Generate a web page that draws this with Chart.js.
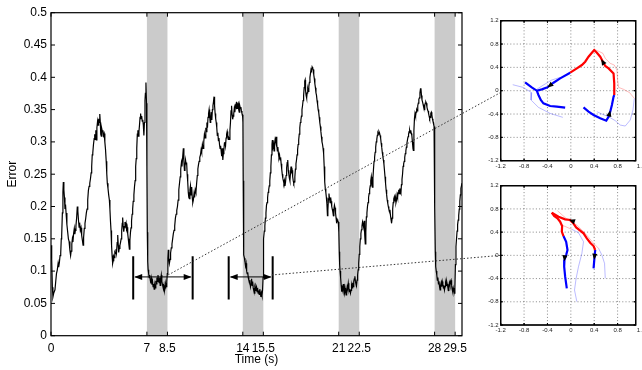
<!DOCTYPE html>
<html>
<head>
<meta charset="utf-8">
<script src="https://cdn.jsdelivr.net/npm/chart.js@4.4.1/dist/chart.umd.min.js"></script>
<style>
  html, body { margin: 0; padding: 0; background: #fff; overflow: hidden; width: 642px; height: 370px; }
  #wrap { position: relative; width: 642px; height: 370px; overflow: hidden; }
  canvas { position: absolute; }
</style>
</head>
<body>
<div id="wrap">
  <canvas id="mainChart" width="642" height="370" style="left:0;top:0;width:642px;height:370px"></canvas>
  <canvas id="insetTop" width="182" height="185" style="left:470px;top:0;width:182px;height:185px"></canvas>
  <canvas id="insetBottom" width="182" height="185" style="left:470px;top:170px;width:182px;height:185px"></canvas>
</div>
<script>
// ---------- main time series: tracking error over time ----------
const timeSec = [
  0.00,0.05,0.10,0.14,0.20,0.29,0.35,0.40,0.46,0.52,0.56,0.61,0.66,0.71,0.75,0.78,0.83,0.87,0.90,0.94,
  0.98,1.02,1.06,1.10,1.16,1.22,1.27,1.32,1.38,1.43,1.47,1.52,1.56,1.60,1.65,1.70,1.74,1.78,1.82,1.87,
  1.92,1.96,2.01,2.05,2.09,2.14,2.19,2.24,2.29,2.34,2.38,2.43,2.48,2.53,2.58,2.63,2.68,2.73,2.78,2.83,
  2.88,2.93,2.97,3.01,3.05,3.10,3.15,3.19,3.23,3.27,3.31,3.35,3.40,3.44,3.48,3.52,3.56,3.60,3.63,3.67,
  3.71,3.75,3.79,3.83,3.88,3.93,3.98,4.03,4.07,4.11,4.16,4.21,4.26,4.30,4.34,4.38,4.42,4.46,4.50,4.54,
  4.58,4.62,4.66,4.70,4.74,4.78,4.83,4.87,4.91,4.94,4.98,5.03,5.08,5.12,5.16,5.20,5.23,5.27,5.31,5.35,
  5.40,5.44,5.48,5.52,5.56,5.60,5.64,5.68,5.72,5.76,5.80,5.84,5.88,5.92,5.96,6.00,6.05,6.10,6.14,6.18,
  6.22,6.26,6.30,6.34,6.38,6.42,6.46,6.50,6.54,6.58,6.62,6.66,6.70,6.74,6.78,6.82,6.86,6.89,6.93,6.97,
  7.00,7.03,7.06,7.09,7.13,7.17,7.21,7.25,7.29,7.33,7.37,7.41,7.45,7.49,7.53,7.57,7.61,7.65,7.69,7.73,
  7.77,7.81,7.85,7.89,7.93,7.97,8.01,8.05,8.09,8.13,8.17,8.21,8.25,8.29,8.33,8.37,8.41,8.45,8.49,8.53,
  8.56,8.60,8.64,8.69,8.73,8.78,8.83,8.88,8.93,8.98,9.03,9.08,9.13,9.18,9.23,9.28,9.33,9.38,9.43,9.47,
  9.52,9.56,9.61,9.66,9.70,9.74,9.78,9.82,9.86,9.90,9.94,9.98,10.02,10.06,10.10,10.14,10.18,10.22,10.27,10.31,
  10.35,10.39,10.44,10.48,10.53,10.58,10.63,10.68,10.72,10.76,10.81,10.86,10.91,10.96,11.00,11.05,11.10,11.15,11.20,11.25,
  11.30,11.34,11.38,11.42,11.46,11.50,11.54,11.58,11.62,11.66,11.70,11.74,11.78,11.82,11.86,11.90,11.94,11.98,12.02,12.06,
  12.10,12.14,12.18,12.22,12.26,12.30,12.34,12.38,12.42,12.46,12.50,12.54,12.58,12.62,12.66,12.70,12.74,12.78,12.82,12.86,
  12.90,12.94,12.98,13.02,13.06,13.10,13.14,13.18,13.22,13.26,13.30,13.34,13.38,13.42,13.46,13.50,13.54,13.58,13.62,13.66,
  13.70,13.74,13.78,13.82,13.86,13.90,13.94,13.98,14.01,14.03,14.05,14.08,14.12,14.16,14.20,14.24,14.28,14.32,14.36,14.40,
  14.44,14.48,14.52,14.56,14.60,14.64,14.68,14.72,14.76,14.80,14.84,14.88,14.92,14.96,15.00,15.04,15.08,15.12,15.16,15.20,
  15.24,15.28,15.32,15.36,15.40,15.44,15.48,15.50,15.53,15.57,15.61,15.65,15.69,15.73,15.77,15.81,15.85,15.89,15.93,15.97,
  16.01,16.05,16.09,16.13,16.16,16.20,16.24,16.28,16.32,16.36,16.40,16.44,16.48,16.52,16.56,16.60,16.64,16.68,16.72,16.76,
  16.80,16.84,16.88,16.92,16.96,17.00,17.04,17.08,17.12,17.16,17.20,17.24,17.28,17.32,17.36,17.40,17.44,17.48,17.52,17.56,
  17.60,17.64,17.68,17.72,17.76,17.80,17.84,17.88,17.92,17.96,18.00,18.04,18.08,18.12,18.16,18.20,18.24,18.28,18.32,18.36,
  18.40,18.44,18.48,18.52,18.55,18.58,18.62,18.66,18.70,18.74,18.78,18.82,18.86,18.90,18.94,18.98,19.02,19.06,19.10,19.14,
  19.18,19.22,19.26,19.30,19.34,19.38,19.42,19.46,19.50,19.54,19.58,19.62,19.66,19.70,19.74,19.78,19.82,19.86,19.90,19.94,
  19.98,20.02,20.06,20.10,20.14,20.18,20.21,20.25,20.29,20.33,20.37,20.41,20.45,20.49,20.53,20.57,20.61,20.65,20.69,20.73,
  20.77,20.81,20.85,20.89,20.93,20.97,21.01,21.04,21.07,21.10,21.14,21.18,21.22,21.26,21.30,21.34,21.38,21.42,21.46,21.50,
  21.54,21.58,21.62,21.66,21.70,21.74,21.78,21.82,21.86,21.90,21.94,21.98,22.02,22.06,22.10,22.14,22.18,22.22,22.26,22.30,
  22.34,22.38,22.42,22.46,22.50,22.54,22.58,22.62,22.66,22.70,22.74,22.78,22.82,22.86,22.90,22.94,22.98,23.02,23.06,23.10,
  23.14,23.18,23.22,23.26,23.30,23.34,23.38,23.42,23.46,23.50,23.54,23.58,23.62,23.66,23.70,23.74,23.78,23.82,23.86,23.90,
  23.94,23.98,24.02,24.06,24.10,24.14,24.18,24.22,24.26,24.30,24.34,24.38,24.42,24.46,24.50,24.54,24.58,24.62,24.66,24.70,
  24.74,24.78,24.82,24.86,24.90,24.94,24.98,25.02,25.06,25.10,25.14,25.18,25.22,25.26,25.30,25.34,25.38,25.42,25.46,25.50,
  25.54,25.58,25.62,25.66,25.70,25.74,25.78,25.82,25.86,25.90,25.94,25.98,26.02,26.06,26.10,26.14,26.18,26.22,26.26,26.30,
  26.34,26.38,26.42,26.45,26.49,26.53,26.57,26.61,26.65,26.69,26.73,26.77,26.81,26.85,26.89,26.93,26.97,27.00,27.04,27.08,
  27.12,27.16,27.20,27.24,27.28,27.32,27.36,27.40,27.44,27.48,27.52,27.56,27.60,27.64,27.68,27.72,27.76,27.80,27.84,27.88,
  27.92,27.96,27.99,28.02,28.05,28.08,28.12,28.16,28.20,28.24,28.28,28.32,28.36,28.40,28.44,28.48,28.52,28.56,28.60,28.64,
  28.68,28.72,28.76,28.80,28.84,28.88,28.92,28.96,29.00,29.04,29.08,29.12,29.16,29.20,29.24,29.28,29.32,29.36,29.40,29.44,
  29.48,29.52,29.56,29.60,29.64,29.68,29.72,29.76,29.80,29.84,29.88,29.92,29.96,30.00
];
const errorVal = [
  0.140,0.118,0.075,0.060,0.066,0.071,0.085,0.096,0.102,0.112,0.106,0.113,0.124,0.128,0.150,0.155,0.190,0.222,0.238,0.226,
  0.214,0.196,0.203,0.190,0.172,0.160,0.150,0.146,0.132,0.124,0.131,0.142,0.150,0.145,0.158,0.166,0.157,0.163,0.170,0.182,
  0.200,0.193,0.178,0.168,0.175,0.163,0.167,0.155,0.148,0.140,0.152,0.166,0.174,0.181,0.190,0.196,0.210,0.225,0.231,0.236,
  0.243,0.252,0.262,0.280,0.283,0.296,0.305,0.312,0.304,0.318,0.303,0.322,0.332,0.326,0.336,0.330,0.343,0.330,0.312,0.309,
  0.320,0.316,0.318,0.310,0.313,0.300,0.288,0.270,0.251,0.236,0.228,0.218,0.210,0.196,0.178,0.163,0.140,0.124,0.112,0.116,
  0.123,0.121,0.129,0.127,0.134,0.128,0.144,0.156,0.140,0.129,0.135,0.140,0.145,0.150,0.163,0.174,0.183,0.170,0.161,0.168,
  0.176,0.170,0.174,0.165,0.168,0.158,0.150,0.142,0.134,0.148,0.160,0.167,0.178,0.188,0.196,0.208,0.218,0.232,0.240,0.262,
  0.274,0.290,0.312,0.318,0.309,0.316,0.326,0.338,0.344,0.336,0.340,0.332,0.334,0.326,0.310,0.330,0.364,0.375,0.392,0.360,
  0.260,0.160,0.115,0.102,0.096,0.090,0.094,0.086,0.081,0.088,0.079,0.084,0.076,0.080,0.072,0.078,0.074,0.085,0.080,0.090,
  0.084,0.094,0.086,0.082,0.090,0.078,0.088,0.094,0.084,0.080,0.076,0.072,0.078,0.070,0.074,0.080,0.076,0.084,0.096,0.120,
  0.133,0.120,0.112,0.118,0.128,0.136,0.142,0.150,0.158,0.163,0.170,0.182,0.188,0.194,0.200,0.210,0.226,0.236,0.246,0.258,
  0.268,0.262,0.276,0.290,0.270,0.256,0.262,0.272,0.266,0.268,0.250,0.238,0.222,0.214,0.212,0.226,0.232,0.218,0.230,0.214,
  0.206,0.210,0.220,0.214,0.226,0.222,0.236,0.248,0.258,0.264,0.270,0.276,0.280,0.288,0.284,0.296,0.290,0.300,0.312,0.306,
  0.322,0.316,0.330,0.322,0.338,0.344,0.350,0.340,0.330,0.338,0.346,0.334,0.350,0.356,0.362,0.370,0.356,0.344,0.336,0.330,
  0.322,0.310,0.314,0.302,0.306,0.296,0.290,0.294,0.286,0.278,0.290,0.272,0.282,0.288,0.298,0.300,0.294,0.306,0.312,0.316,
  0.310,0.304,0.306,0.304,0.318,0.330,0.348,0.356,0.342,0.335,0.340,0.344,0.352,0.346,0.356,0.354,0.362,0.352,0.358,0.360,
  0.350,0.346,0.356,0.352,0.354,0.348,0.344,0.342,0.330,0.240,0.150,0.125,0.120,0.114,0.108,0.112,0.100,0.096,0.098,0.090,
  0.086,0.082,0.086,0.076,0.080,0.088,0.078,0.084,0.074,0.070,0.066,0.074,0.070,0.078,0.076,0.068,0.074,0.066,0.070,0.064,
  0.072,0.066,0.060,0.066,0.062,0.070,0.090,0.120,0.150,0.162,0.170,0.182,0.190,0.202,0.206,0.214,0.222,0.226,0.232,0.240,
  0.252,0.262,0.280,0.296,0.303,0.292,0.296,0.286,0.298,0.304,0.300,0.308,0.296,0.286,0.292,0.282,0.276,0.280,0.272,0.276,
  0.266,0.258,0.250,0.244,0.240,0.236,0.240,0.232,0.238,0.248,0.260,0.268,0.272,0.256,0.250,0.244,0.240,0.252,0.262,0.254,
  0.256,0.246,0.240,0.236,0.238,0.246,0.258,0.266,0.272,0.280,0.288,0.296,0.303,0.312,0.322,0.330,0.334,0.340,0.350,0.356,
  0.364,0.372,0.384,0.394,0.396,0.380,0.372,0.368,0.376,0.382,0.378,0.386,0.392,0.400,0.406,0.412,0.410,0.416,0.414,0.412,
  0.404,0.398,0.390,0.384,0.376,0.372,0.364,0.358,0.350,0.346,0.338,0.330,0.324,0.316,0.308,0.300,0.296,0.290,0.282,0.262,
  0.238,0.228,0.222,0.214,0.204,0.186,0.194,0.212,0.220,0.212,0.206,0.214,0.208,0.200,0.196,0.192,0.186,0.196,0.202,0.198,
  0.190,0.182,0.174,0.180,0.178,0.176,0.160,0.130,0.110,0.100,0.090,0.078,0.068,0.074,0.070,0.080,0.072,0.066,0.074,0.068,
  0.063,0.070,0.076,0.072,0.081,0.074,0.068,0.072,0.066,0.070,0.078,0.074,0.082,0.076,0.084,0.088,0.092,0.084,0.080,0.078,
  0.086,0.094,0.102,0.112,0.126,0.138,0.150,0.158,0.164,0.170,0.176,0.172,0.168,0.178,0.156,0.142,0.160,0.184,0.190,0.200,
  0.206,0.214,0.220,0.226,0.232,0.240,0.246,0.236,0.230,0.244,0.258,0.270,0.276,0.284,0.292,0.300,0.304,0.310,0.314,0.312,
  0.316,0.314,0.310,0.306,0.298,0.292,0.284,0.278,0.272,0.266,0.256,0.246,0.236,0.226,0.218,0.210,0.205,0.200,0.196,0.192,
  0.195,0.186,0.180,0.174,0.182,0.196,0.206,0.212,0.215,0.208,0.214,0.206,0.210,0.218,0.214,0.222,0.226,0.220,0.228,0.222,
  0.220,0.234,0.242,0.250,0.262,0.266,0.270,0.276,0.282,0.286,0.292,0.298,0.303,0.308,0.312,0.316,0.318,0.314,0.318,0.313,
  0.310,0.300,0.290,0.287,0.318,0.336,0.344,0.340,0.346,0.350,0.348,0.356,0.360,0.366,0.368,0.376,0.382,0.383,0.372,0.365,
  0.362,0.358,0.354,0.350,0.356,0.360,0.362,0.360,0.354,0.350,0.348,0.344,0.340,0.336,0.338,0.344,0.346,0.342,0.336,0.332,
  0.330,0.324,0.300,0.200,0.130,0.107,0.100,0.094,0.086,0.090,0.080,0.084,0.076,0.071,0.078,0.082,0.076,0.084,0.080,0.074,
  0.078,0.071,0.076,0.082,0.078,0.084,0.080,0.076,0.070,0.076,0.082,0.078,0.084,0.086,0.078,0.072,0.068,0.074,0.070,0.066,
  0.074,0.110,0.138,0.150,0.162,0.172,0.179,0.186,0.196,0.208,0.218,0.228,0.232,0.236
];

// axis ticks
const timeTicks = [0, 7, 8.5, 14, 15.5, 21, 22.5, 28, 29.5];
const errorTicks = [0, 0.05, 0.1, 0.15, 0.2, 0.25, 0.3, 0.35, 0.4, 0.45, 0.5];

// shaded intervals (s)
const bandStart = [7, 14, 21, 28];
const bandEnd = [8.5, 15.5, 22.5, 29.5];

// double-headed window markers
const windowFrom = [6.0, 12.97];
const windowTo = [10.34, 16.18];
const windowLevel = [0.091, 0.091];
const windowBarLow = 0.056;
const windowBarHigh = 0.123;

// dotted links from the time series to the two phase plots
const linkTime = [8.55, 16.11];
const linkError = [0.094, 0.094];
const linkPlotX = [-1.2, -1.2];
const linkPlotY = [-0.03, 0.0];

// ---------- phase plots ----------
const planeTicks = [-1.2, -0.8, -0.4, 0, 0.4, 0.8, 1.2];
const planeTickLabels = ['-1.2', '-0.8', '-0.4', '0', '0.4', '0.8', '1.2'];

// upper plot
const upRedX = [0.743,0.743,0.731,0.646,0.589,0.549,0.503,0.446,0.400,0.360,0.303,0.246,0.189,0.103,-0.011];
const upRedY = [-0.074,0.126,0.297,0.383,0.423,0.497,0.583,0.651,0.697,0.651,0.583,0.497,0.440,0.383,0.309];
const upBlueAX = [-0.011,-0.183,-0.297,-0.400,-0.497,-0.583];
const upBlueAY = [0.309,0.211,0.137,0.057,0.023,0.000];
const upBlueBX = [-0.783,-0.669,-0.583,-0.554,-0.514,-0.469,-0.354,-0.240,-0.097];
const upBlueBY = [0.143,0.057,0.000,-0.074,-0.160,-0.217,-0.263,-0.274,-0.291];
const upBlueCX = [0.217,0.303,0.389,0.503,0.606,0.646,0.674,0.703,0.731,0.743];
const upBlueCY = [-0.286,-0.360,-0.417,-0.474,-0.514,-0.446,-0.360,-0.246,-0.103,-0.074];
const upFaintRedX = [0.331,0.400,0.491,0.549,0.589,0.674,0.743,0.789,0.800,0.817,0.903,1.006,1.086];
const upFaintRedY = [0.611,0.709,0.669,0.640,0.554,0.469,0.440,0.354,0.183,0.057,0.023,-0.034,-0.131];
const upFaintBlueRX = [1.086,1.063,1.017,0.931,0.846,0.760,0.646,0.531,0.446];
const upFaintBlueRY = [-0.131,-0.331,-0.503,-0.606,-0.589,-0.514,-0.446,-0.400,-0.360];
const upFaintBlueLX = [-0.994,-0.817,-0.669,-0.680,-0.554,-0.354,-0.137];
const upFaintBlueLY = [0.103,0.057,-0.034,-0.160,-0.286,-0.389,-0.457];
const upFaintBlueMX = [-0.183,-0.326,-0.469,-0.583];
const upFaintBlueMY = [0.229,0.183,0.097,0.023];
// direction markers: [fromX, fromY, tipX, tipY]
const upArrows = [
  [-0.297, 0.137, -0.400, 0.057],
  [0.589, 0.423, 0.520, 0.540],
  [0.650, -0.440, 0.675, -0.340]
];

// lower plot
const loRedAX = [-0.326,-0.286,-0.229,-0.183,-0.149,-0.154,-0.126];
const loRedAY = [0.735,0.677,0.637,0.580,0.505,0.408,0.333];
const loRedBX = [-0.326,-0.211,-0.097,-0.011,0.034,0.091,0.160,0.217,0.274,0.331,0.389,0.417];
const loRedBY = [0.735,0.666,0.620,0.609,0.563,0.482,0.425,0.379,0.293,0.218,0.161,0.092];
const loBlueAX = [-0.126,-0.080,-0.057,-0.080,-0.109,-0.114,-0.097,-0.069];
const loBlueAY = [0.333,0.235,0.092,0.006,-0.080,-0.195,-0.367,-0.568];
const loBlueBX = [0.417,0.406,0.389];
const loBlueBY = [0.092,-0.023,-0.224];
const loFaintRedX = [-0.229,-0.126,-0.011,0.103,0.246,0.389,0.474];
const loFaintRedY = [0.769,0.677,0.580,0.522,0.379,0.207,0.121];
const loFaintRed2X = [-0.154,0.017];
const loFaintRed2Y = [0.522,0.448];
const loFaintBlueRX = [0.474,0.531,0.577,0.589];
const loFaintBlueRY = [0.121,0.006,-0.138,-0.396];
const loFaintBlueMX = [0.017,0.131,0.217,0.189,0.131,0.091,0.063,0.103];
const loFaintBlueMY = [0.448,0.390,0.235,0.034,-0.195,-0.396,-0.597,-0.798];
const loArrows = [
  [0.060, 0.580, -0.030, 0.612],
  [-0.100, 0.010, -0.112, -0.100],
  [0.410, 0.030, 0.400, -0.075]
];

// ---------- shared setup ----------
Chart.defaults.font.family = '"Liberation Sans", Arial, Helvetica, sans-serif';
Chart.defaults.color = '#000';

const pts = (xs, ys) => xs.map((v, i) => ({ x: v, y: ys[i] }));

function arrowHead(ctx, x0, y0, x1, y1, len, half) {
  const a = Math.atan2(y1 - y0, x1 - x0);
  ctx.beginPath();
  ctx.moveTo(x1, y1);
  ctx.lineTo(x1 - len * Math.cos(a) + half * Math.sin(a), y1 - len * Math.sin(a) - half * Math.cos(a));
  ctx.lineTo(x1 - len * Math.cos(a) - half * Math.sin(a), y1 - len * Math.sin(a) + half * Math.cos(a));
  ctx.closePath();
  ctx.fill();
}

// frame, inward tick marks and optional dotted grid for a chart area
function drawBox(chart, xVals, yVals, tickLen, grid) {
  const { ctx, chartArea: a, scales: { x, y } } = chart;
  ctx.save();
  if (grid) {
    ctx.strokeStyle = '#6a6a6a';
    ctx.lineWidth = 0.8;
    ctx.setLineDash([1, 2.2]);
    xVals.forEach(v => {
      const p = x.getPixelForValue(v);
      if (p > a.left + 1 && p < a.right - 1) {
        ctx.beginPath(); ctx.moveTo(p, a.top); ctx.lineTo(p, a.bottom); ctx.stroke();
      }
    });
    yVals.forEach(v => {
      const p = y.getPixelForValue(v);
      if (p > a.top + 1 && p < a.bottom - 1) {
        ctx.beginPath(); ctx.moveTo(a.left, p); ctx.lineTo(a.right, p); ctx.stroke();
      }
    });
    ctx.setLineDash([]);
  }
  ctx.strokeStyle = '#000';
  ctx.lineWidth = 1;
  ctx.beginPath();
  xVals.forEach(v => {
    const p = x.getPixelForValue(v);
    if (p < a.left - 0.5 || p > a.right + 0.5) return;
    ctx.moveTo(p, a.bottom); ctx.lineTo(p, a.bottom - tickLen);
    ctx.moveTo(p, a.top); ctx.lineTo(p, a.top + tickLen);
  });
  yVals.forEach(v => {
    const p = y.getPixelForValue(v);
    ctx.moveTo(a.left, p); ctx.lineTo(a.left + tickLen, p);
    ctx.moveTo(a.right, p); ctx.lineTo(a.right - tickLen, p);
  });
  ctx.stroke();
  ctx.lineWidth = 1.2;
  ctx.strokeRect(a.left, a.top, a.right - a.left, a.bottom - a.top);
  ctx.restore();
}

// ---------- phase plot factory ----------
function makePlane(id, padTop, axisHeight, series, arrows) {
  const datasets = series.map(s => ({
    data: pts(s.x, s.y),
    showLine: true,
    borderColor: s.color,
    borderWidth: s.width,
    pointRadius: 0,
    tension: 0,
    fill: false
  }));
  return new Chart(document.getElementById(id), {
    type: 'scatter',
    data: { datasets },
    options: {
      responsive: false,
      animation: false,
      events: [],
      layout: { padding: { top: padTop, right: 16.3, left: 0, bottom: 0 } },
      scales: {
        x: {
          type: 'linear', min: -1.2, max: 1.11,
          afterBuildTicks: s => { s.ticks = planeTicks.map(v => ({ value: v })); },
          afterFit: s => { s.height = axisHeight; },
          grid: { display: false, drawTicks: false },
          border: { display: false },
          ticks: {
            autoSkip: false, maxRotation: 0, minRotation: 0, padding: 2,
            color: '#222', font: { size: 6 },
            callback: (v, i) => planeTickLabels[i]
          }
        },
        y: {
          type: 'linear', min: -1.2, max: 1.2,
          afterBuildTicks: s => { s.ticks = planeTicks.map(v => ({ value: v })); },
          afterFit: s => { s.width = 30.7; },
          grid: { display: false, drawTicks: false },
          border: { display: false },
          ticks: {
            autoSkip: false, padding: 2, color: '#222', font: { size: 6 },
            callback: (v, i) => planeTickLabels[i]
          }
        }
      },
      plugins: { legend: { display: false }, tooltip: { enabled: false } }
    },
    plugins: [{
      id: 'planeDecor',
      beforeDatasetsDraw(chart) {
        drawBox(chart, planeTicks, planeTicks, 2, true);
      },
      afterDatasetsDraw(chart) {
        const { ctx, scales: { x, y } } = chart;
        ctx.save();
        ctx.fillStyle = '#000';
        arrows.forEach(r => {
          arrowHead(ctx, x.getPixelForValue(r[0]), y.getPixelForValue(r[1]),
                    x.getPixelForValue(r[2]), y.getPixelForValue(r[3]), 6, 2.6);
        });
        ctx.restore();
        drawBox(chart, planeTicks, planeTicks, 2, false);
      }
    }]
  });
}

const RED = '#ff0000', BLUE = '#0000ff';
const FAINT_RED = 'rgba(255,60,60,0.35)', FAINT_BLUE = 'rgba(60,60,255,0.35)';

const upperPlane = makePlane('insetTop', 20.7, 24.3, [
  { x: upRedX, y: upRedY, color: RED, width: 2.2 },
  { x: upBlueAX, y: upBlueAY, color: BLUE, width: 2.2 },
  { x: upBlueBX, y: upBlueBY, color: BLUE, width: 2.2 },
  { x: upBlueCX, y: upBlueCY, color: BLUE, width: 2.2 },
  { x: upFaintRedX, y: upFaintRedY, color: FAINT_RED, width: 1 },
  { x: upFaintBlueRX, y: upFaintBlueRY, color: FAINT_BLUE, width: 1 },
  { x: upFaintBlueLX, y: upFaintBlueLY, color: FAINT_BLUE, width: 1 },
  { x: upFaintBlueMX, y: upFaintBlueMY, color: FAINT_BLUE, width: 1 }
], upArrows);

const lowerPlane = makePlane('insetBottom', 15.7, 30, [
  { x: loRedAX, y: loRedAY, color: RED, width: 2.2 },
  { x: loRedBX, y: loRedBY, color: RED, width: 2.2 },
  { x: loBlueAX, y: loBlueAY, color: BLUE, width: 2.2 },
  { x: loBlueBX, y: loBlueBY, color: BLUE, width: 2.2 },
  { x: loFaintRedX, y: loFaintRedY, color: FAINT_RED, width: 1 },
  { x: loFaintRed2X, y: loFaintRed2Y, color: FAINT_RED, width: 1 },
  { x: loFaintBlueRX, y: loFaintBlueRY, color: FAINT_BLUE, width: 1 },
  { x: loFaintBlueMX, y: loFaintBlueMY, color: FAINT_BLUE, width: 1 }
], loArrows);

// ---------- main chart ----------
const mainDecor = {
  id: 'mainDecor',
  beforeDatasetsDraw(chart) {
    const { ctx, chartArea: a, scales: { x } } = chart;
    ctx.save();
    ctx.fillStyle = '#cbcbcb';
    bandStart.forEach((s, i) => {
      const x0 = x.getPixelForValue(s), x1 = x.getPixelForValue(bandEnd[i]);
      ctx.fillRect(x0, a.top, x1 - x0, a.bottom - a.top);
    });
    ctx.restore();
  },
  afterDatasetsDraw(chart) {
    drawBox(chart, timeTicks, errorTicks, 4, false);
  },
  afterDraw(chart) {
    const { ctx, scales: { x, y } } = chart;
    ctx.save();
    // window markers
    ctx.strokeStyle = '#000';
    ctx.fillStyle = '#000';
    windowFrom.forEach((f, i) => {
      const xa = x.getPixelForValue(f), xb = x.getPixelForValue(windowTo[i]);
      const ym = y.getPixelForValue(windowLevel[i]);
      const yl = y.getPixelForValue(windowBarLow), yh = y.getPixelForValue(windowBarHigh);
      ctx.lineWidth = 1;
      ctx.beginPath(); ctx.moveTo(xa + 2, ym); ctx.lineTo(xb - 2, ym); ctx.stroke();
      arrowHead(ctx, xb - 10, ym, xb - 1, ym, 8, 3);
      arrowHead(ctx, xa + 10, ym, xa + 1, ym, 8, 3);
      ctx.lineWidth = 2;
      ctx.beginPath();
      ctx.moveTo(xa, yl); ctx.lineTo(xa, yh);
      ctx.moveTo(xb, yl); ctx.lineTo(xb, yh);
      ctx.stroke();
    });
    // dotted links to the phase plots
    const planes = [upperPlane, lowerPlane];
    ctx.strokeStyle = '#333';
    ctx.lineWidth = 1;
    ctx.setLineDash([1.5, 2]);
    linkTime.forEach((t, i) => {
      const p = planes[i];
      const cv = p.canvas;
      const ex = cv.offsetLeft + p.scales.x.getPixelForValue(linkPlotX[i]);
      const ey = cv.offsetTop + p.scales.y.getPixelForValue(linkPlotY[i]);
      ctx.beginPath();
      ctx.moveTo(x.getPixelForValue(t), y.getPixelForValue(linkError[i]));
      ctx.lineTo(ex, ey);
      ctx.stroke();
    });
    ctx.restore();
  }
};

new Chart(document.getElementById('mainChart'), {
  type: 'line',
  data: {
    datasets: [{
      data: pts(timeSec, errorVal),
      borderColor: '#000',
      borderWidth: 1.2,
      pointRadius: 0,
      tension: 0,
      fill: false
    }]
  },
  options: {
    responsive: false,
    animation: false,
    events: [],
    layout: { padding: { top: 12.7, right: 180, left: 0, bottom: 0 } },
    scales: {
      x: {
        type: 'linear', min: 0, max: 30,
        afterBuildTicks: s => { s.ticks = timeTicks.map(v => ({ value: v })); },
        afterFit: s => { s.height = 34.3; },
        grid: { display: false, drawTicks: false },
        border: { display: false },
        ticks: {
          autoSkip: false, maxRotation: 0, minRotation: 0, padding: 6,
          color: '#000', font: { size: 12 },
          callback: v => String(v)
        },
        title: { display: true, text: 'Time (s)', color: '#000', font: { size: 12 }, padding: { top: 0, bottom: 3 } }
      },
      y: {
        type: 'linear', min: 0, max: 0.5,
        afterBuildTicks: s => { s.ticks = errorTicks.map(v => ({ value: v })); },
        afterFit: s => { s.width = 51; },
        grid: { display: false, drawTicks: false },
        border: { display: false },
        ticks: {
          autoSkip: false, padding: 4, color: '#000', font: { size: 12 },
          callback: v => String(v)
        },
        title: { display: true, text: 'Error', color: '#000', font: { size: 12 }, padding: { top: 5, bottom: 0 } }
      }
    },
    plugins: { legend: { display: false }, tooltip: { enabled: false } }
  },
  plugins: [mainDecor]
});
</script>
</body>
</html>
